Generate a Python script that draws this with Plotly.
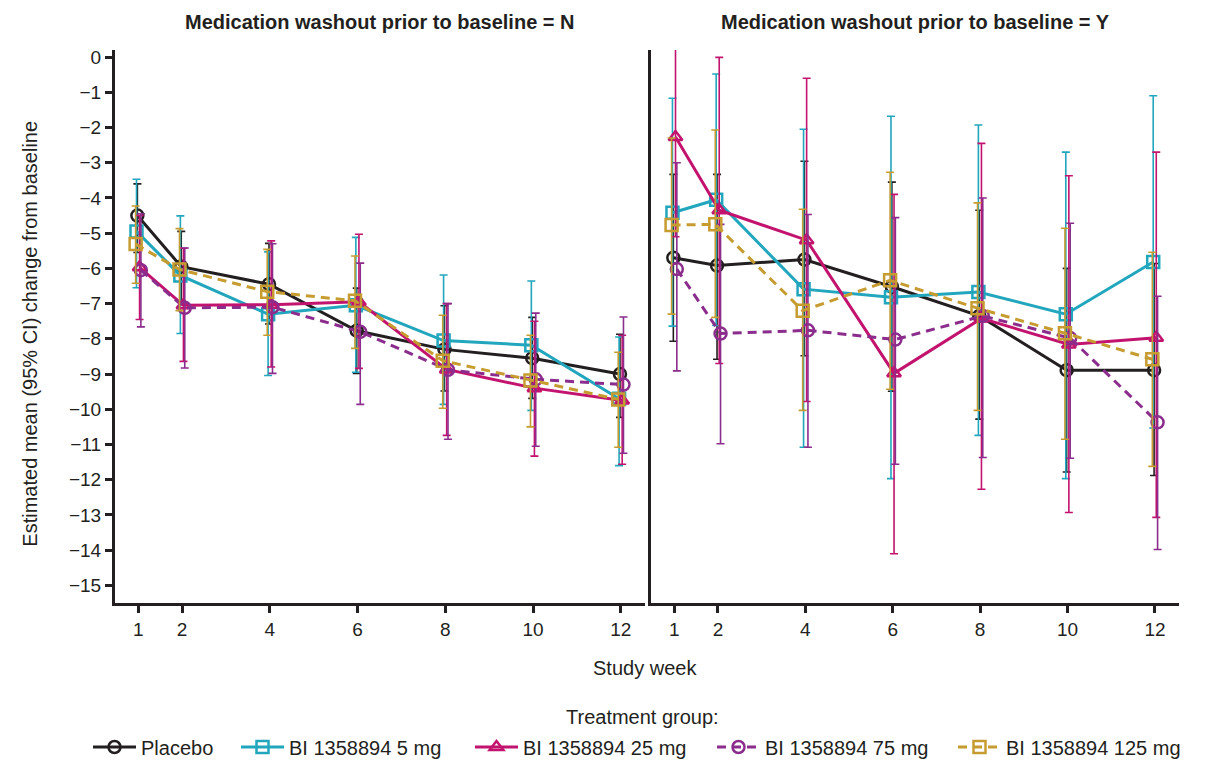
import plotly.graph_objects as go

weeks = [1, 2, 4, 6, 8, 10, 12]
week_ticks = [1, 2, 4, 6, 8, 10, 12]
y_ticks = list(range(0, -16, -1))

groups = ["Placebo", "BI 1358894 5 mg", "BI 1358894 25 mg", "BI 1358894 75 mg", "BI 1358894 125 mg"]
panel_titles = ["Medication washout prior to baseline = N", "Medication washout prior to baseline = Y"]

# Panel N (no washout)
placebo_N = [-4.5, -5.95, -6.45, -7.77, -8.3, -8.55, -9.0]
placebo_N_lo = [-5.55, -6.95, -7.58, -8.98, -9.48, -9.69, -10.23]
placebo_N_hi = [-3.6, -4.95, -5.29, -6.56, -7.06, -7.39, -7.87]

mg5_N = [-4.95, -6.2, -7.3, -7.05, -8.05, -8.18, -9.7]
mg5_N_lo = [-6.55, -7.85, -9.04, -8.95, -9.86, -10.03, -11.6]
mg5_N_hi = [-3.47, -4.51, -5.53, -5.12, -6.19, -6.36, -7.95]

mg25_N = [-5.97, -7.05, -7.03, -6.95, -8.87, -9.4, -9.75]
mg25_N_lo = [-7.45, -8.64, -8.8, -8.84, -10.74, -11.33, -11.56]
mg25_N_hi = [-4.5, -5.43, -5.22, -5.03, -7.0, -7.5, -7.9]

mg75_N = [-6.05, -7.12, -7.1, -7.8, -8.88, -9.15, -9.3]
mg75_N_lo = [-7.66, -8.83, -8.98, -9.86, -10.85, -11.05, -11.25]
mg75_N_hi = [-4.45, -5.42, -5.3, -5.85, -7.0, -7.27, -7.38]

mg125_N = [-5.31, -6.03, -6.66, -6.92, -8.62, -9.18, -9.72]
mg125_N_lo = [-6.42, -7.2, -7.9, -8.27, -9.97, -10.5, -11.08]
mg125_N_hi = [-4.23, -4.87, -5.46, -5.65, -7.33, -7.9, -8.38]

# Panel Y (washout)
placebo_Y = [-5.7, -5.92, -5.75, -6.52, -7.35, -8.89, -8.89]
placebo_Y_lo = [-8.07, -8.58, -8.48, -9.49, -10.28, -11.78, -11.88]
placebo_Y_hi = [-3.33, -3.33, -2.96, -3.55, -4.35, -6.0, -5.86]

mg5_Y = [-4.42, -4.05, -6.59, -6.82, -6.67, -7.3, -5.82]
mg5_Y_lo = [-7.64, -7.62, -11.08, -11.97, -10.74, -11.97, -10.53]
mg5_Y_hi = [-1.17, -0.48, -2.05, -1.68, -1.93, -2.7, -1.1]

mg25_Y = [-2.27, -4.35, -5.2, -8.98, -7.42, -8.16, -7.97]
mg25_Y_lo = [-5.1, -8.7, -9.78, -14.1, -12.27, -12.93, -13.07]
mg25_Y_hi = [0.57, -0.01, -0.6, -3.9, -2.45, -3.37, -2.7]

mg75_Y = [-6.02, -7.85, -7.76, -8.02, -7.35, -7.98, -10.37]
mg75_Y_lo = [-8.91, -10.98, -11.08, -11.56, -11.37, -11.39, -13.98]
mg75_Y_hi = [-3.0, -4.75, -4.47, -4.56, -4.0, -4.72, -6.79]

mg125_Y = [-4.77, -4.75, -7.2, -6.34, -7.13, -7.84, -8.58]
mg125_Y_lo = [-7.3, -7.39, -10.03, -9.43, -10.03, -10.85, -11.62]
mg125_Y_hi = [-2.3, -2.07, -4.32, -3.27, -4.14, -4.86, -5.54]

panel_data = [
    [(placebo_N, placebo_N_lo, placebo_N_hi), (mg5_N, mg5_N_lo, mg5_N_hi), (mg25_N, mg25_N_lo, mg25_N_hi),
     (mg75_N, mg75_N_lo, mg75_N_hi), (mg125_N, mg125_N_lo, mg125_N_hi)],
    [(placebo_Y, placebo_Y_lo, placebo_Y_hi), (mg5_Y, mg5_Y_lo, mg5_Y_hi), (mg25_Y, mg25_Y_lo, mg25_Y_hi),
     (mg75_Y, mg75_Y_lo, mg75_Y_hi), (mg125_Y, mg125_Y_lo, mg125_Y_hi)],
]

colors = ["#231f20", "#22a6bd", "#c2136e", "#8b2d8c", "#c69c31"]
symbols = ["circle-open", "square-open", "triangle-up-open", "circle-open", "square-open"]
dashes = ["solid", "solid", "solid", "9px,6px", "9px,6px"]
dodge = [-0.02, -0.04, 0.03, 0.06, -0.06]

FONT = "Liberation Sans, Arial, sans-serif"
INK = "#231f20"
W, H = 1207, 763

# legend entry left edges (container pixels) for each treatment group
legend_left_px = [88, 236, 470, 712, 953]
legend_ids = ["legend", "legend2", "legend3", "legend4", "legend5"]

fig = go.Figure()
for p, data in enumerate(panel_data):
    xa = "x" if p == 0 else "x2"
    ya = "y" if p == 0 else "y2"
    for g, (m, lo, hi) in enumerate(data):
        fig.add_trace(go.Scatter(
            x=[w + dodge[g] for w in weeks], y=m,
            mode="lines+markers", name=groups[g], legendgroup=groups[g],
            legend=legend_ids[g], showlegend=(p == 0),
            line=dict(color=colors[g], width=3, dash=dashes[g]),
            marker=dict(symbol=symbols[g], size=12, color=colors[g], line=dict(width=2.5, color=colors[g])),
            error_y=dict(type="data", symmetric=False,
                         array=[h - v for h, v in zip(hi, m)],
                         arrayminus=[v - l for v, l in zip(m, lo)],
                         color=colors[g], thickness=1.6, width=4),
            xaxis=xa, yaxis=ya,
        ))

axis_common = dict(showline=True, linecolor=INK, linewidth=3, ticks="outside", ticklen=7, tickwidth=3,
                   tickcolor=INK, showgrid=False, zeroline=False,
                   tickfont=dict(family=FONT, size=19, color=INK))

legend_layout = {}
for g, lid in enumerate(legend_ids):
    legend_layout[lid] = dict(orientation="h", xref="container", yref="container",
                              x=legend_left_px[g] / W, xanchor="left",
                              y=(H - 747) / H, yanchor="middle", itemwidth=43,
                              font=dict(family=FONT, size=20, color=INK), bgcolor="rgba(0,0,0,0)",
                              borderwidth=0)

fig.update_layout(
    width=W, height=H,
    margin=dict(l=115, r=28, t=50, b=160, autoexpand=False),
    plot_bgcolor="white", paper_bgcolor="white",
    font=dict(family=FONT, color=INK),
    xaxis=dict(domain=[0, 0.4981], range=[0.47, 12.55], tickvals=week_ticks, **axis_common),
    xaxis2=dict(domain=[0.5038, 1], range=[0.47, 12.55], tickvals=week_ticks, **axis_common),
    yaxis=dict(range=[-15.5, 0.2], tickvals=y_ticks, anchor="x", **axis_common),
    yaxis2=dict(range=[-15.5, 0.2], anchor="x2", showline=True, linecolor=INK, linewidth=3,
                showticklabels=False, ticks="", showgrid=False, zeroline=False),
    showlegend=True,
    annotations=[
        dict(text="<b>" + panel_titles[0] + "</b>", x=0.249, y=1.0, xref="paper", yref="paper",
             xanchor="center", yanchor="middle", yshift=28, showarrow=False,
             font=dict(family=FONT, size=20, color=INK)),
        dict(text="<b>" + panel_titles[1] + "</b>", x=0.752, y=1.0, xref="paper", yref="paper",
             xanchor="center", yanchor="middle", yshift=28, showarrow=False,
             font=dict(family=FONT, size=20, color=INK)),
        dict(text="Estimated mean (95% CI) change from baseline", textangle=-90,
             x=-0.0799, y=0.487, xref="paper", yref="paper", xanchor="center", yanchor="middle",
             showarrow=False, font=dict(family=FONT, size=20, color=INK)),
        dict(text="Study week", x=0.498, y=-0.117, xref="paper", yref="paper",
             xanchor="center", yanchor="middle", showarrow=False, font=dict(family=FONT, size=20, color=INK)),
        dict(text="Treatment group:", x=0.496, y=-0.206, xref="paper", yref="paper",
             xanchor="center", yanchor="middle", showarrow=False, font=dict(family=FONT, size=20, color=INK)),
    ],
    **legend_layout,
)

fig.write_html("out.html")
